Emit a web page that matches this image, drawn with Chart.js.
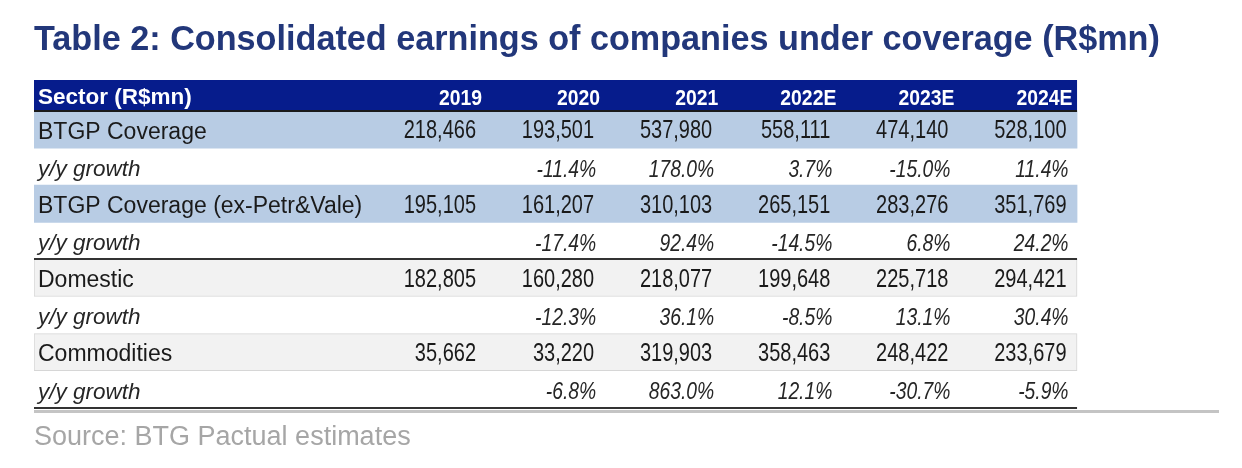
<!DOCTYPE html>
<html>
<head>
<meta charset="utf-8">
<script src="https://cdn.jsdelivr.net/npm/chart.js@4.4.0/dist/chart.umd.min.js"></script>
<style>
  html, body { margin: 0; padding: 0; background: #ffffff; }
  canvas { display: block; }
</style>
</head>
<body>
<canvas id="c" width="1242" height="468"></canvas>
<script>
// ---------------- DATA ----------------
const titleText = 'Table 2: Consolidated earnings of companies under coverage (R$mn)';
const sourceText = 'Source: BTG Pactual estimates';
const headerLabel = 'Sector (R$mn)';
const years = ['2019', '2020', '2021', '2022E', '2023E', '2024E'];
const rowLabels = [
  'BTGP Coverage', 'y/y growth',
  'BTGP Coverage (ex-Petr&Vale)', 'y/y growth',
  'Domestic', 'y/y growth',
  'Commodities', 'y/y growth'
];
const btgpCoverage       = [218466, 193501, 537980, 558111, 474140, 528100];
const btgpCoverageGrowth = [null, -11.4, 178.0, 3.7, -15.0, 11.4];
const exPetrVale         = [195105, 161207, 310103, 265151, 283276, 351769];
const exPetrValeGrowth   = [null, -17.4, 92.4, -14.5, 6.8, 24.2];
const domestic           = [182805, 160280, 218077, 199648, 225718, 294421];
const domesticGrowth     = [null, -12.3, 36.1, -8.5, 13.1, 30.4];
const commodities        = [35662, 33220, 319903, 358463, 248422, 233679];
const commoditiesGrowth  = [null, -6.8, 863.0, 12.1, -30.7, -5.9];

const rowValues = [
  btgpCoverage, btgpCoverageGrowth,
  exPetrVale, exPetrValeGrowth,
  domestic, domesticGrowth,
  commodities, commoditiesGrowth
];

// ---------------- LAYOUT / STYLE ----------------
const FONT = "'Liberation Sans', Arial, Helvetica, sans-serif";
const X_MIN = -2.802;     // left edge of the label column (column units)
const X_MAX = 7.232;      // right end of the plotting area
const TABLE_END = 6.030;  // right edge of the table
const HEADER_H = 31;
const HEADER_BG = '#061C8C';
const TITLE_COLOR = '#22377A';
const ROW_FILL = ['#B8CCE4', null, '#B8CCE4', null, '#F2F2F2', null, '#F2F2F2', null];
const ROW_BORDER = [0, 0, 0, 0, 1, 0, 1, 0];

function fmt(row, v) {
  if (v === null || v === undefined) return '';
  if (row % 2 === 1) return v.toFixed(1) + '%';
  return v.toLocaleString('en-US');
}

function drawCondensed(ctx, text, xRight, yMid, font, color, sx) {
  ctx.save();
  ctx.font = font;
  ctx.fillStyle = color;
  ctx.textAlign = 'right';
  ctx.textBaseline = 'middle';
  ctx.translate(xRight, yMid);
  ctx.scale(sx, 1);
  ctx.fillText(text, 0, 0);
  ctx.restore();
}

const tablePlugin = {
  id: 'tablePlugin',
  beforeDraw(chart) {
    const ctx = chart.ctx;
    const x = chart.scales.x;
    const left = x.getPixelForValue(X_MIN);
    const right = x.getPixelForValue(TABLE_END);
    const mid = x.top + 17.5;
    ctx.save();
    ctx.fillStyle = HEADER_BG;
    ctx.fillRect(left, x.top, right - left, x.bottom - x.top);
    ctx.fillStyle = '#ffffff';
    ctx.font = 'bold 22.5px ' + FONT;
    ctx.textAlign = 'left';
    ctx.textBaseline = 'middle';
    ctx.fillText(headerLabel, left + 4, mid);
    ctx.restore();
    years.forEach((yr, i) => {
      drawCondensed(ctx, yr, x.getPixelForValue(i + 1) - 1, mid + 1, 'bold 22px ' + FONT, '#ffffff', 0.88);
    });
  },
  afterDatasetsDraw(chart) {
    const ctx = chart.ctx;
    const x = chart.scales.x, y = chart.scales.y;
    rowValues.forEach((vals, r) => {
      const yMid = y.getPixelForValue(r);
      vals.forEach((v, c) => {
        const txt = fmt(r, v);
        if (!txt) return;
        const xr = x.getPixelForValue(c + 1);
        if (r % 2 === 1) {
          drawCondensed(ctx, txt, xr - 5, yMid + 3.5, 'italic 23.5px ' + FONT, '#262626', 0.82);
        } else {
          drawCondensed(ctx, txt, xr - 7, yMid + 2, '25px ' + FONT, '#1a1a1a', 0.8);
        }
      });
    });
  },
  afterDraw(chart) {
    const ctx = chart.ctx;
    const x = chart.scales.x, y = chart.scales.y;
    const area = chart.chartArea;
    const left = x.getPixelForValue(X_MIN);
    const right = x.getPixelForValue(TABLE_END);
    ctx.save();
    ctx.fillStyle = '#1a1a1a';
    ctx.fillRect(left, x.bottom - 1, right - left, 2);
    const b = (y.getPixelForValue(3) + y.getPixelForValue(4)) / 2;
    ctx.fillStyle = '#333333';
    ctx.fillRect(left, Math.round(b) - 1, right - left, 2);
    ctx.fillStyle = '#333333';
    ctx.fillRect(left, Math.round(area.bottom) - 1, right - left, 2);
    ctx.fillStyle = '#C4C4C4';
    ctx.fillRect(left, Math.round(area.bottom) + 2, area.right - left, 3);
    ctx.restore();
  }
};

new Chart(document.getElementById('c'), {
  type: 'bar',
  data: {
    labels: rowLabels,
    datasets: [{
      data: rowLabels.map((_, i) => ROW_FILL[i] ? [X_MIN, TABLE_END] : null),
      backgroundColor: ROW_FILL.map(c => c || 'rgba(0,0,0,0)'),
      borderColor: ROW_FILL.map((c, i) => ROW_BORDER[i] ? '#D6D6D6' : 'rgba(0,0,0,0)'),
      borderWidth: ROW_BORDER,
      borderSkipped: false,
      barPercentage: 1,
      categoryPercentage: 1
    }]
  },
  options: {
    indexAxis: 'y',
    responsive: false,
    animation: false,
    devicePixelRatio: 1,
    layout: { padding: { left: 34, right: 23, top: 0, bottom: 0 } },
    plugins: {
      legend: { display: false },
      tooltip: { enabled: false },
      title: {
        display: true,
        text: titleText,
        align: 'start',
        color: TITLE_COLOR,
        font: { family: FONT, size: 34.2, weight: 'bold', lineHeight: 1.2 },
        padding: { top: 19.6, bottom: 19.36 }
      },
      subtitle: {
        display: true,
        text: sourceText,
        position: 'bottom',
        align: 'start',
        color: '#A6A6A6',
        font: { family: FONT, size: 27, weight: 'normal', lineHeight: 1.2 },
        padding: { top: 14, bottom: 13.8 }
      }
    },
    scales: {
      x: {
        type: 'linear',
        position: 'top',
        min: X_MIN,
        max: X_MAX,
        bounds: 'data',
        grid: { display: false, drawTicks: false },
        border: { display: false },
        afterBuildTicks: (axis) => { axis.ticks = years.map((_, i) => ({ value: i + 1 })); },
        afterFit: (axis) => { axis.height = HEADER_H; },
        ticks: { display: false }
      },
      y: {
        type: 'category',
        position: 'left',
        grid: { display: false, drawTicks: false },
        border: { display: false },
        afterFit: (axis) => { axis.width = 0; },
        ticks: {
          mirror: true,
          padding: 4,
          labelOffset: 3,
          z: 1,
          color: (ctx) => ctx.index % 2 === 1 ? '#262626' : '#1a1a1a',
          font: (ctx) => ctx.index % 2 === 1
            ? { family: FONT, size: 22.5, style: 'italic', lineHeight: 1.2 }
            : { family: FONT, size: 23, lineHeight: 1.2 }
        }
      }
    }
  },
  plugins: [tablePlugin]
});
</script>
</body>
</html>
